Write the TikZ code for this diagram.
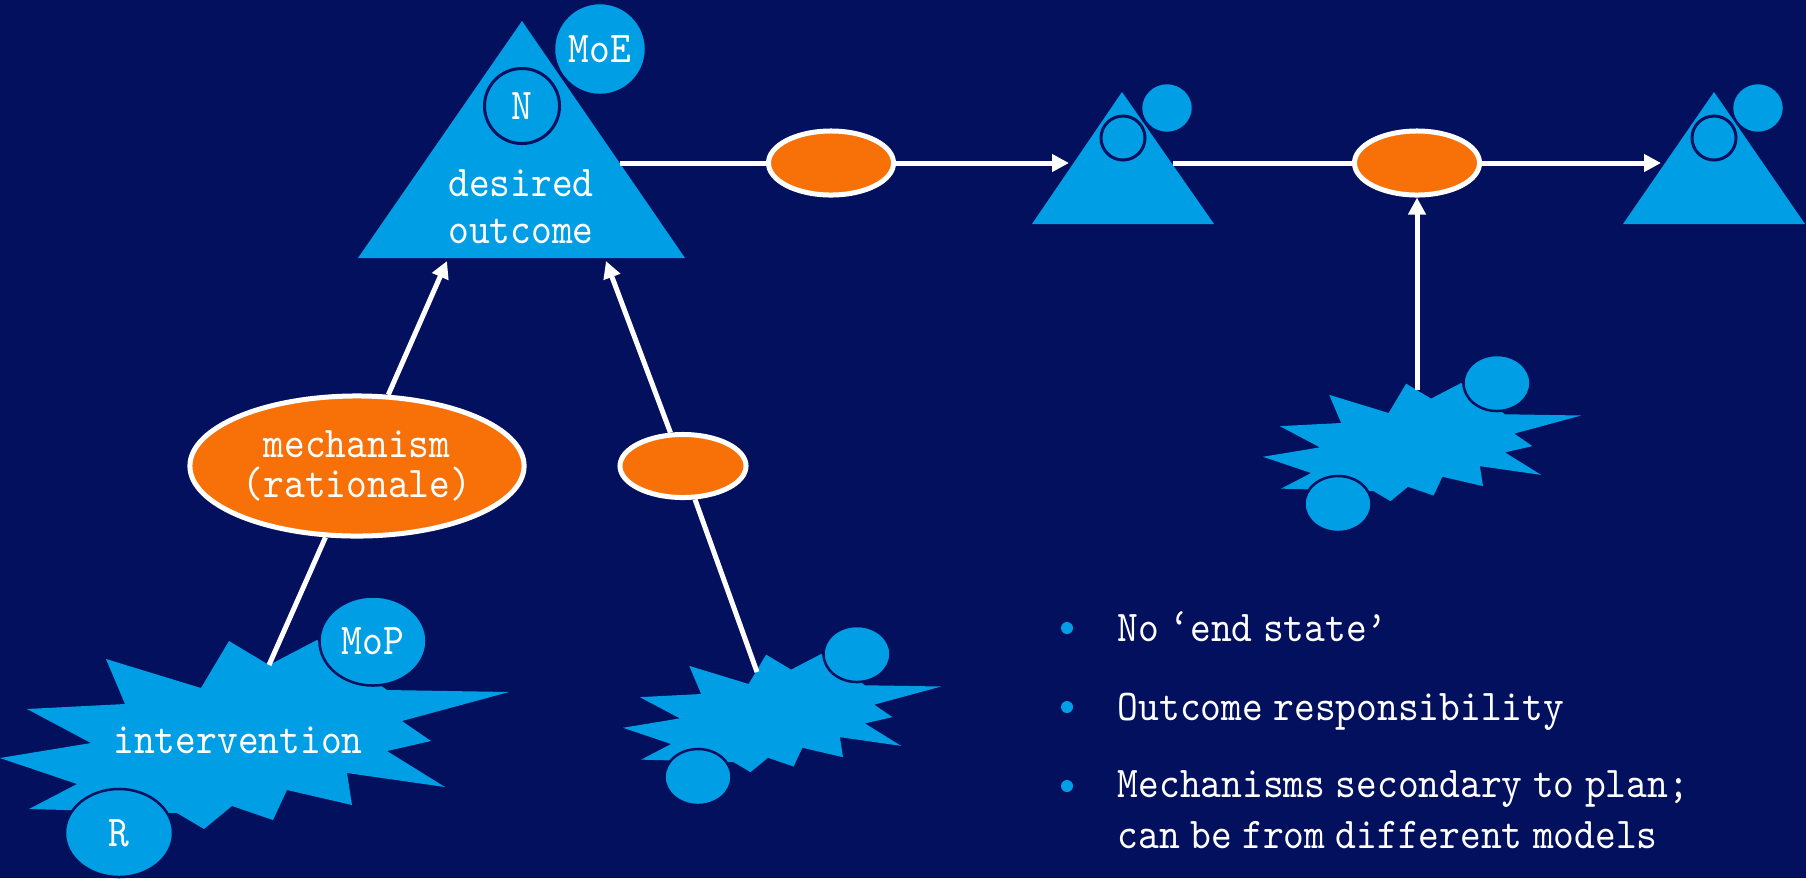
\documentclass[tikz,border=0pt]{standalone}
\usepackage{fontspec}
\usepackage{tikz}
\usetikzlibrary{shapes.geometric,arrows.meta,positioning}

\newfontfamily\slidefont{lmmono10-regular}[Extension=.otf, FakeStretch=0.9, WordSpace=0.5]
\definecolor{navy}{RGB}{2,16,94}
\definecolor{skyblue}{RGB}{0,158,228}
\definecolor{flame}{RGB}{247,113,8}

\tikzset{
  lbl/.style={text=white, inner sep=0pt},
  blob/.style={ellipse, fill=skyblue, draw=navy, line width=0.25mm, inner sep=0pt, text=white},
  ring/.style={circle, fill=skyblue, draw=navy, line width=0.3mm, inner sep=0pt, text=white},
  mech/.style={ellipse, fill=flame, draw=white, line width=0.5mm, inner sep=0pt, text=white},
  link/.style={draw=white, line width=0.5mm},
  dot/.style={circle, fill=skyblue, minimum size=1.2mm, inner sep=0pt}
}

% explosion outline, top left corner at #1,#2, scaled by #3
\newcommand\drawburst[3]{%
  \fill[skyblue, shift={(#1,#2)}, scale=#3]
    (0,118) -- (91,103) -- (27,69) -- (125,64) -- (106,19) -- (201,48)
    -- (229,1) -- (269,25) -- (317,0) -- (387,50) -- (509,52) -- (402,81)
    -- (431,101) -- (387,111) -- (445,147) -- (347,133) -- (352,165)
    -- (287,150) -- (273,180) -- (232,166) -- (204,189) -- (177,173)
    -- (29,169) -- (77,144) -- cycle;}

\begin{document}
\begin{tikzpicture}[x=0.01cm, y=-0.01cm, >={Triangle[length=1.7mm,width=1.7mm]},
  font=\slidefont\fontsize{12.5}{13.3}\selectfont]

\useasboundingbox[fill=navy] (0,0) rectangle (1806,878);

% outcomes
\fill[skyblue] (522,21) -- (685,258) -- (358,258) -- cycle;
\fill[skyblue] (1122,92) -- (1214,224) -- (1032,224) -- cycle;
\fill[skyblue] (1714,92) -- (1805,224) -- (1623,224) -- cycle;

\node[ring, minimum size=7.5mm] (need) at (522,106) {N};
\node[blob, minimum width=9.2mm, minimum height=9.2mm] (moe) at (600,49) {MoE};
\node[lbl, align=center] (goal) at (521,207) {desired\\outcome};

\node[ring, minimum size=4.4mm] (need2) at (1123,138) {};
\node[blob, minimum width=5.2mm, minimum height=5mm] (moe2) at (1167,108) {};
\node[ring, minimum size=4.4mm] (need3) at (1714,138) {};
\node[blob, minimum width=5.2mm, minimum height=5mm] (moe3) at (1758,108) {};

\coordinate (goal-l) at (447,261);
\coordinate (goal-r) at (606,261);
\coordinate (goal-e) at (620,163);
\coordinate (out2-w) at (1069,163);
\coordinate (out2-e) at (1173,163);
\coordinate (out3-w) at (1661,163);

% interventions
\drawburst{0}{640}{1}
\drawburst{623}{654}{0.625}
\drawburst{1263}{383}{0.625}

\node[lbl] (int) at (238,740) {intervention};
\node[blob, minimum width=10.7mm, minimum height=8.9mm] (mop) at (373,641) {MoP};
\node[blob, minimum width=10.8mm, minimum height=8.8mm] (res) at (119,833) {R};
\node[blob, minimum width=6.7mm, minimum height=5.6mm] (mop2) at (857,654) {};
\node[blob, minimum width=6.7mm, minimum height=5.6mm] (res2) at (698,777) {};
\node[blob, minimum width=6.7mm, minimum height=5.6mm] (mop3) at (1497,383) {};
\node[blob, minimum width=6.7mm, minimum height=5.6mm] (res3) at (1338,504) {};

\coordinate (int-top) at (269,665);
\coordinate (int2-top) at (757,672);
\coordinate (int3-top) at (1417,390);

% mechanisms
\node[mech, minimum width=33.4mm, minimum height=14mm, align=center] (mech)
  at (357,466) {mechanism\\[-2pt](rationale)};
\node[mech, minimum width=12.6mm, minimum height=6.3mm] (mech2) at (683,466) {};
\node[mech, minimum width=12.5mm, minimum height=6.4mm] (mech3) at (831,163) {};
\node[mech, minimum width=12.5mm, minimum height=6.4mm] (mech4) at (1417,163) {};

\draw[link, ->] (int-top) -- (mech) -- (goal-l);
\draw[link, ->] (int2-top) -- (mech2) -- (goal-r);
\draw[link, ->] (goal-e) -- (mech3) -- (out2-w);
\draw[link, ->] (out2-e) -- (mech4) -- (out3-w);
\draw[link, ->] (int3-top) -- (mech4);

% notes
\node[dot] (d1) at (1067,628) {};
\node[dot] (d2) at (1067,707) {};
\node[dot] (d3) at (1067,786) {};
\node[lbl, anchor=base west] (p1) at (1117,641) {No ‘end state’};
\node[lbl, anchor=base west] (p2) at (1117,720) {Outcome responsibility};
\node[lbl, anchor=base west, align=left] (p3) at (1117,848)
  {Mechanisms secondary to plan;\\[1pt]can be from different models};

\end{tikzpicture}
\end{document}
